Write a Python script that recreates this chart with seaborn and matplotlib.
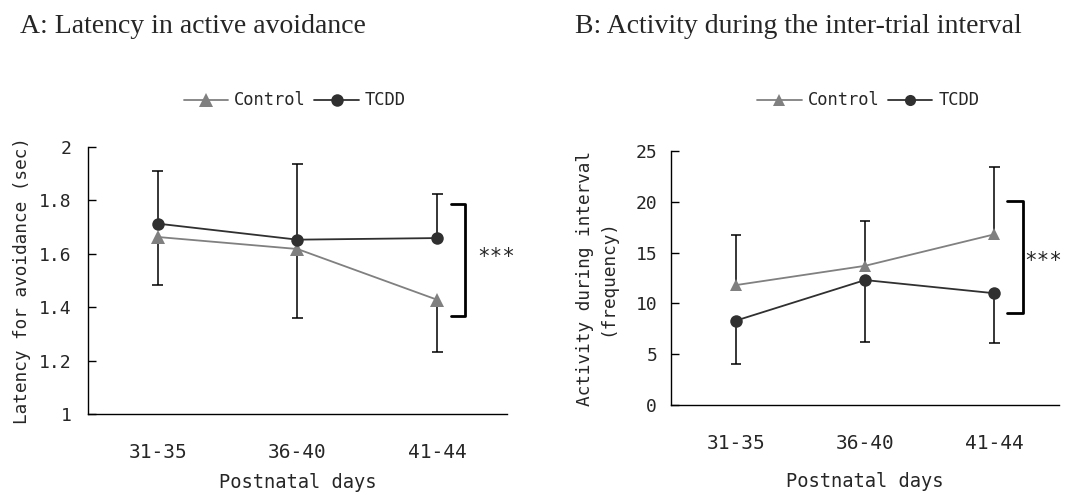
import numpy as np
import pandas as pd
import matplotlib
matplotlib.use("Agg")
import matplotlib.pyplot as plt
import seaborn as sns
from matplotlib.lines import Line2D

sns.set_theme(style="white")
plt.rcParams['font.family'] = ['DejaVu Sans Mono', 'DejaVu Sans']

days = ["31-35", "36-40", "41-44"]
groups = ["Control", "TCDD"]

# Panel A: latency (sec)
lat_control = [1.663, 1.618, 1.428]
lat_tcdd = [1.713, 1.653, 1.659]
lat_control_low = [1.484, 1.361, 1.232]   # lower error ends (Control)
lat_tcdd_high = [1.911, 1.936, 1.824]     # upper error ends (TCDD)

# Panel B: activity (frequency)
act_control = [11.8, 13.7, 16.8]
act_tcdd = [8.3, 12.3, 11.0]
act_control_high = [16.75, 18.1, 23.4]    # upper error ends (Control)
act_tcdd_low = [4.0, 6.25, 6.1]           # lower error ends (TCDD)

titles = ["A: Latency in active avoidance", "B: Activity during the inter-trial interval"]
ylabels = ["Latency for avoidance (sec)", "Activity during interval\n(frequency)"]
xlabel = "Postnatal days"

colors = {"Control": "#808080", "TCDD": "#303030"}
markers = {"Control": "^", "TCDD": "o"}

fig = plt.figure(figsize=(10.86, 4.95), dpi=100)
axA = fig.add_axes([0.081, 0.1636, 0.3858, 0.5394])
axB = fig.add_axes([0.6179, 0.1818, 0.3573, 0.5131])

def make_df(c, t):
    return pd.DataFrame({
        "day": days * 2,
        "group": ["Control"] * 3 + ["TCDD"] * 3,
        "value": list(c) + list(t),
    })

def draw(ax, c, t, ctrl_err_end, tcdd_err_end, ylim, yticks, yticklabels,
         bracket, stars, tri_size, circ_size, ypad):
    df = make_df(c, t)
    df["x"] = df["day"].map({d: i for i, d in enumerate(days)})
    xs = np.arange(len(days))
    # one-sided error bars, behind the markers
    for vals, ends in ((c, ctrl_err_end), (t, tcdd_err_end)):
        vals = np.asarray(vals); ends = np.asarray(ends)
        ax.vlines(xs, vals, ends, color="black", lw=1.1, zorder=1)
        ax.hlines(ends, xs - 0.04, xs + 0.04, color="black", lw=1.1, zorder=1)
    sns.lineplot(data=df, x="x", y="value", hue="group", style="group",
                 palette=colors, markers=markers, dashes=False,
                 markeredgewidth=0, linewidth=1.3,
                 ax=ax, legend=False, zorder=3)
    for ln in ax.get_lines():
        if ln.get_marker() == "^":
            ln.set_markersize(tri_size)
        elif ln.get_marker() == "o":
            ln.set_markersize(circ_size)
    ax.set_xlim(-0.5, 2.5)
    ax.set_ylim(*ylim)
    ax.set_yticks(yticks)
    ax.set_yticklabels(yticklabels, fontsize=13)
    ax.set_xticks(xs)
    ax.set_xticklabels(days, fontsize=14)
    ax.set_xticks([-0.5, 0.5, 1.5, 2.5], minor=True)
    ax.tick_params(axis="x", which="major", length=0, pad=21)
    ax.tick_params(axis="x", which="minor", direction="in", length=6, width=1, color="black")
    ax.tick_params(axis="y", direction="in", length=6, width=1, color="black",
                   left=True, pad=ypad)
    for s in ("top", "right"):
        ax.spines[s].set_visible(False)
    for s in ("left", "bottom"):
        ax.spines[s].set_color("black")
        ax.spines[s].set_linewidth(1.0)
    ax.set_xlabel(xlabel, fontsize=13.5)
    # significance bracket
    bx0, bx1, by0, by1 = bracket
    ax.plot([bx0, bx1, bx1, bx0], [by1, by1, by0, by0], color="black",
            lw=2.0, clip_on=False, zorder=4)
    sx, sy = stars
    ax.text(sx, sy, "***", ha="center", va="baseline", fontsize=15,
            clip_on=False)

draw(axA, lat_control, lat_tcdd, lat_control_low, lat_tcdd_high,
     (1.0, 2.0), [1.0, 1.2, 1.4, 1.6, 1.8, 2.0],
     ["1", "1.2", "1.4", "1.6", "1.8", "2"],
     (2.10, 2.20, 1.366, 1.787), (2.42, 1.565), 10.5, 9, 12)
axA.set_ylabel(ylabels[0], fontsize=12.8)
axA.yaxis.set_label_coords(-0.158, 0.5)
axA.yaxis.label.set_verticalalignment("center")
axA.xaxis.set_label_coords(0.5, -0.222)

draw(axB, act_control, act_tcdd, act_control_high, act_tcdd_low,
     (0, 25), [0, 5, 10, 15, 20, 25],
     ["0", "5", "10", "15", "20", "25"],
     (2.10, 2.22, 9.04, 20.1), (2.376, 13.6), 8.5, 9, 10)
axB.set_ylabel(ylabels[1], fontsize=12.8, linespacing=1.35)
axB.yaxis.set_label_coords(-0.193, 0.5)
axB.yaxis.label.set_verticalalignment("center")
axB.xaxis.set_label_coords(0.5, -0.262)

# titles
fig.text(20 / 1086, 1 - 33 / 495, titles[0], fontsize=20, family="Liberation Serif",
         ha="left", va="baseline")
fig.text(575 / 1086, 1 - 33 / 495, titles[1], fontsize=20, family="Liberation Serif",
         ha="left", va="baseline")

# legends
def legend_handles(tri, circ):
    sizes = {"Control": tri, "TCDD": circ}
    return [Line2D([0], [0], color=colors[g], marker=markers[g], markersize=sizes[g],
                   markeredgewidth=0, lw=1.3) for g in groups]

fig.legend(handles=legend_handles(10.5, 9), labels=groups, loc="center left",
           bbox_to_anchor=(0.155, 0.797), ncol=2, frameon=False, fontsize=12.3,
           handlelength=2.6, handletextpad=0.35, columnspacing=0.5)
fig.legend(handles=legend_handles(8, 8), labels=groups, loc="center left",
           bbox_to_anchor=(0.683, 0.797), ncol=2, frameon=False, fontsize=12.3,
           handlelength=2.6, handletextpad=0.35, columnspacing=0.5)

fig.savefig("out.png", dpi=100, facecolor="white")
